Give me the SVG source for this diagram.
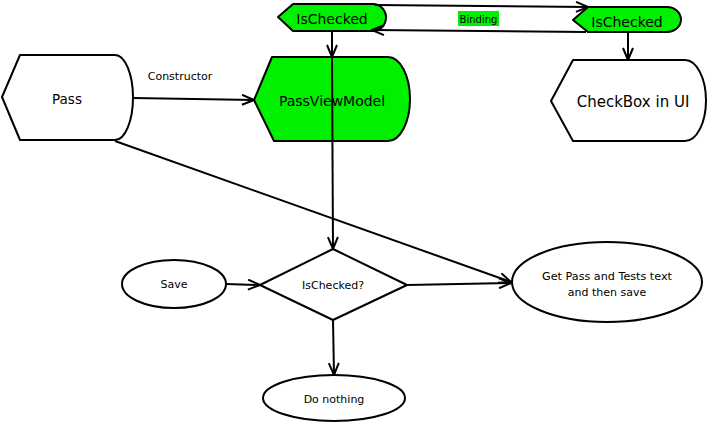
<svg xmlns="http://www.w3.org/2000/svg" width="707" height="422" viewBox="0 0 707 422">
<style>
.shape{stroke:#000;stroke-width:2;stroke-linejoin:round}
.white{fill:#fff}
.green{fill:#00f000}
.conn line{stroke:#000;stroke-width:2;fill:none}
text{font-family:"DejaVu Sans","Liberation Sans",sans-serif;fill:#000;text-anchor:middle}
.s11{font-size:11px}
</style>
<defs>
<marker id="arr" viewBox="0 0 14 12" refX="13" refY="6" markerWidth="14" markerHeight="12" markerUnits="userSpaceOnUse" orient="auto">
<path d="M1,1 L13,6 L1,11" fill="none" stroke="#000" stroke-width="2"/>
</marker>
</defs>
<rect width="707" height="422" fill="#fff"/>
<g id="pass">
<path class="shape white" d="M2,97 L20,55 L115,55 A18,42.5 0 0 1 115,140 L20,140 Z"/>
<text x="67" y="104" style="font-size:13.5px">Pass</text>
</g>
<g id="passviewmodel">
<path class="shape green" d="M254,100 L272,57 L388,57 A22,42 0 0 1 388,141 L274,141 Z"/>
<text x="332" y="106" style="font-size:14px">PassViewModel</text>
</g>
<g id="checkbox">
<path class="shape white" d="M551,101 L573,60 L685,60 A21,40.5 0 0 1 685,141 L573,141 Z"/>
<text x="633" y="107" style="font-size:15px">CheckBox in UI</text>
</g>
<g id="ischecked-vm">
<path class="shape green" d="M278,17 L293,4 L373,4 A13,13.5 0 0 1 373,31 L293,31 Z"/>
<text x="332" y="24" style="font-size:14px">IsChecked</text>
</g>
<g id="ischecked-ui">
<path class="shape green" d="M573,20 L588,7 L667,7 A14,12.5 0 0 1 667,32 L588,32 Z"/>
<text x="627" y="27" style="font-size:14px">IsChecked</text>
</g>
<g id="save">
<ellipse class="shape white" cx="174" cy="284" rx="52" ry="24"/>
<text class="s11" x="174" y="288">Save</text>
</g>
<g id="decision">
<path class="shape white" d="M333,249 L407,285 L333,320 L260,285 Z"/>
<text class="s11" x="333" y="289">IsChecked?</text>
</g>
<g id="donothing">
<ellipse class="shape white" cx="334" cy="398" rx="71" ry="23"/>
<text class="s11" x="334" y="403">Do nothing</text>
</g>
<g id="getpass">
<ellipse class="shape white" cx="607" cy="282" rx="95" ry="40"/>
<text x="607" y="280" style="font-size:11.2px">Get Pass and Tests text</text>
<text class="s11" x="607" y="296">and then save</text>
</g>
<g id="connectors" class="conn">
<line x1="133" y1="98" x2="254" y2="100" marker-end="url(#arr)"/>
<line x1="115" y1="141" x2="511" y2="282" marker-end="url(#arr)"/>
<line x1="375" y1="5" x2="588" y2="7" marker-end="url(#arr)"/>
<line x1="586" y1="32" x2="372" y2="30" marker-end="url(#arr)"/>
<line x1="332" y1="31" x2="332" y2="57" marker-end="url(#arr)"/>
<line x1="332" y1="57" x2="333" y2="249" marker-end="url(#arr)"/>
<line x1="628" y1="32" x2="628" y2="60" marker-end="url(#arr)"/>
<line x1="226" y1="284" x2="260" y2="285" marker-end="url(#arr)"/>
<line x1="333" y1="320" x2="334" y2="375" marker-end="url(#arr)"/>
<line x1="407" y1="285" x2="511" y2="283" marker-end="url(#arr)"/>
<text x="180" y="80" class="s11">Constructor</text>
<rect x="458" y="11" width="41" height="15" fill="#00f000"/>
<text x="478.5" y="23" style="font-size:10px">Binding</text>
</g>
</svg>
